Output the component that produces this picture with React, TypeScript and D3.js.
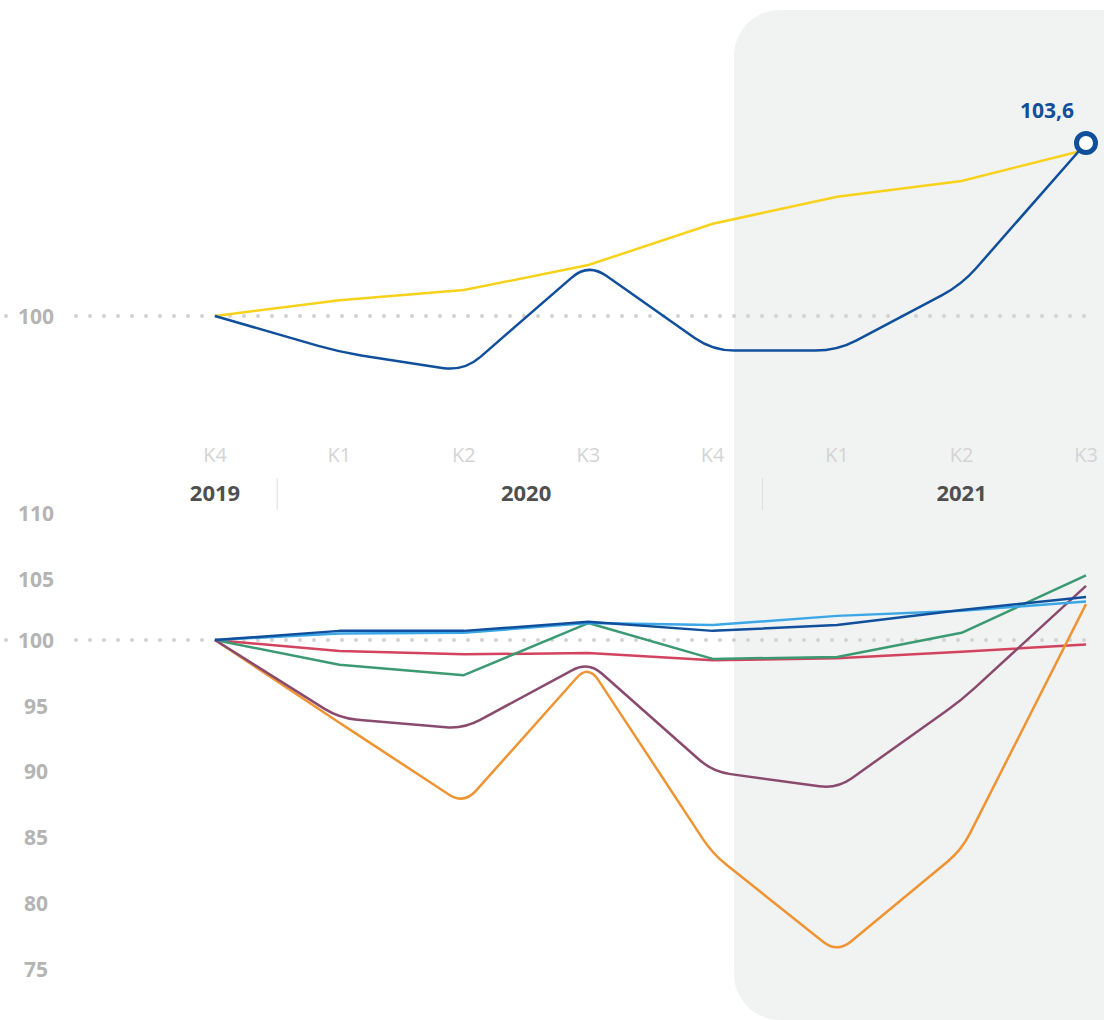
import React from "react";
import * as d3 from "d3";

const quarters = ["K4", "K1", "K2", "K3", "K4", "K1", "K2", "K3"];
const years = ["2019", "2020", "2021"];
const yearCenters = [0, 2.5, 6]; // in quarter index units
const yearSeparators = [0.5, 4.4];

const topBlue = [100, 99.25, 98.85, 101.1, 99.28, 99.28, 100.65, 103.6];
const topYellow = [100, 100.33, 100.54, 101.06, 101.92, 102.48, 102.81, 103.46];
const topLabel = "103,6";

const bottomTicks = [110, 105, 100, 95, 90, 85, 80, 75];
const sRed = [100, 99.15, 98.9, 99.0, 98.45, 98.6, 99.1, 99.65];
const sGreen = [100, 98.1, 97.3, 101.3, 98.55, 98.7, 100.55, 104.95];
const sOrange = [100, 93.65, 87.4, 98.1, 83.6, 76.0, 83.9, 102.75];
const sPurple = [100, 94.0, 93.2, 98.35, 89.9, 88.6, 95.4, 104.15];
const sLightBlue = [100, 100.5, 100.55, 101.3, 101.15, 101.85, 102.25, 102.95];
const sDarkBlue = [100, 100.7, 100.7, 101.4, 100.7, 101.15, 102.3, 103.3];

const FONT = "'Open Sans', 'Noto Sans', sans-serif";

function roundedPath(pts: [number, number][], r: number): string {
  const p = d3.path();
  p.moveTo(pts[0][0], pts[0][1]);
  for (let i = 1; i < pts.length - 1; i++) {
    const [px, py] = pts[i - 1];
    const [cx, cy] = pts[i];
    const [nx, ny] = pts[i + 1];
    const d1 = Math.hypot(cx - px, cy - py);
    const d2 = Math.hypot(nx - cx, ny - cy);
    const rr = Math.min(r, d1 / 2, d2 / 2);
    if (rr <= 0) {
      p.lineTo(cx, cy);
      continue;
    }
    p.lineTo(cx - ((cx - px) * rr) / d1, cy - ((cy - py) * rr) / d1);
    p.quadraticCurveTo(cx, cy, cx + ((nx - cx) * rr) / d2, cy + ((ny - cy) * rr) / d2);
  }
  const last = pts[pts.length - 1];
  p.lineTo(last[0], last[1]);
  return p.toString();
}

export default function App() {
  const W = 1104;
  const H = 1020;
  const x = d3.scaleLinear().domain([0, 7]).range([215, 1086]);
  const yTop = d3.scaleLinear().domain([100, 103.6]).range([316, 143]);
  const yBot = d3.scaleLinear().domain([100, 75]).range([640, 966]);

  const toPts = (vals: number[], y: d3.ScaleLinear<number, number>) =>
    vals.map((v, i) => [x(i), y(v)] as [number, number]);
  const sharp = d3.line<[number, number]>();

  const bottomSeries = [
    { vals: sRed, color: "#d3435f", round: 0 },
    { vals: sGreen, color: "#3c9a73", round: 0 },
    { vals: sOrange, color: "#ee9433", round: 18 },
    { vals: sPurple, color: "#8a4a6e", round: 18 },
    { vals: sLightBlue, color: "#3ba7e6", round: 0 },
    { vals: sDarkBlue, color: "#0f4f9b", round: 0 },
  ];

  const dotted = (y: number) => (
    <g>
      <line x1={6} x2={6.01} y1={y} y2={y} stroke="#d2d2d2" strokeWidth={4} strokeLinecap="round" />
      <line x1={76} x2={1090} y1={y} y2={y} stroke="#d2d2d2" strokeWidth={4} strokeLinecap="round" strokeDasharray="0 14" />
    </g>
  );

  const lastIdx = topBlue.length - 1;

  return (
    <svg width={W} height={H} style={{ position: "absolute", left: 0, top: 0, background: "#fff" }}>
      <rect x={734} y={10} width={440} height={1010} rx={46} ry={46} fill="#f1f2f2" />

      {/* Top chart */}
      {dotted(yTop(100))}
      <text x={36} y={yTop(100)} dy="0.36em" textAnchor="middle" fontFamily={FONT} fontWeight={700} fontSize={21} fill="#b4b4b4">
        100
      </text>
      <path d={sharp(toPts(topYellow, yTop)) || ""} fill="none" stroke="#f8d21a" strokeWidth={2.5} />
      <path d={roundedPath(toPts(topBlue, yTop), 22)} fill="none" stroke="#0f4f9b" strokeWidth={2.5} />
      <circle cx={x(lastIdx)} cy={yTop(topBlue[lastIdx])} r={9.5} fill="#fff" stroke="#0f4f9b" strokeWidth={5} />
      <text x={x(lastIdx) - 39} y={yTop(topBlue[lastIdx]) - 25} textAnchor="middle" fontFamily={FONT} fontWeight={700} fontSize={21} fill="#0f4f9b">
        {topLabel}
      </text>

      {/* Quarter labels */}
      {quarters.map((q, i) => (
        <text key={i} x={x(i)} y={455} dy="0.36em" textAnchor="middle" fontFamily={FONT} fontSize={20} fill="#d4d4d4">
          {q}
        </text>
      ))}
      {years.map((yr, i) => (
        <text key={yr} x={x(yearCenters[i])} y={493} dy="0.36em" textAnchor="middle" fontFamily={FONT} fontWeight={700} fontSize={22} fill="#4f4f4f">
          {yr}
        </text>
      ))}
      {yearSeparators.map((s, i) => (
        <line key={i} x1={x(s)} x2={x(s)} y1={478} y2={510} stroke="#dddddd" strokeWidth={1} />
      ))}

      {/* Bottom chart */}
      {dotted(yBot(100))}
      {bottomTicks.map((t) => (
        <text key={t} x={36} y={yBot(t) + (100 - t) * 0.15 + (t > 100 ? 5 : 0)} dy="0.36em" textAnchor="middle" fontFamily={FONT} fontWeight={700} fontSize={21} fill="#b4b4b4">
          {t}
        </text>
      ))}
      {bottomSeries.map((s, i) => (
        <path
          key={i}
          d={s.round > 0 ? roundedPath(toPts(s.vals, yBot), s.round) : sharp(toPts(s.vals, yBot)) || ""}
          fill="none"
          stroke={s.color}
          strokeWidth={2.5}
          strokeLinejoin="round"
        />
      ))}
    </svg>
  );
}
